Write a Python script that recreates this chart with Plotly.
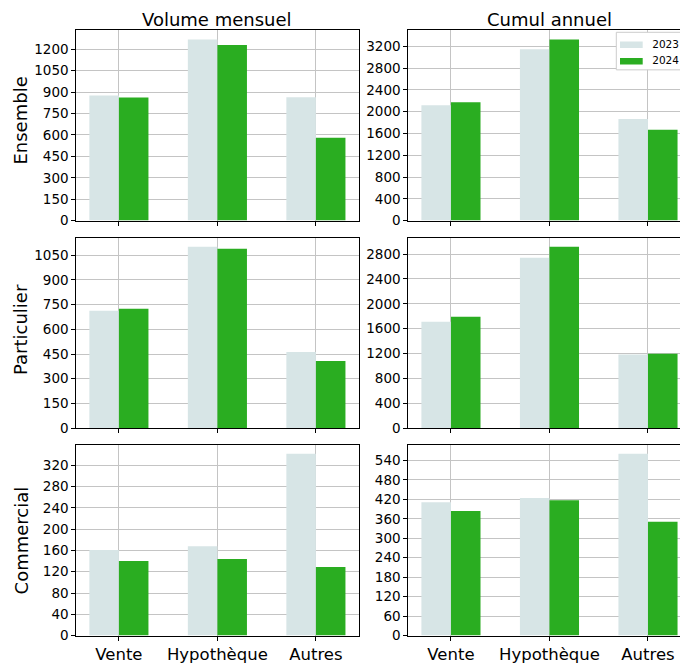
import plotly.graph_objects as go

categories = ["Vente", "Hypothèque", "Autres"]
years = ["2023", "2024"]
col_titles = ["Volume mensuel", "Cumul annuel"]
row_titles = ["Ensemble", "Particulier", "Commercial"]

ens_mensuel_2023 = [876, 1269, 864]
ens_mensuel_2024 = [862, 1230, 581]
ens_cumul_2023 = [2117, 3146, 1864]
ens_cumul_2024 = [2171, 3326, 1666]
par_mensuel_2023 = [713, 1101, 462]
par_mensuel_2024 = [725, 1089, 408]
par_cumul_2023 = [1713, 2741, 1186]
par_cumul_2024 = [1792, 2916, 1196]
com_mensuel_2023 = [161, 168, 342]
com_mensuel_2024 = [140, 144, 129]
com_cumul_2023 = [411, 424, 561]
com_cumul_2024 = [384, 417, 351]

dticks = [[150, 400], [150, 400], [40, 60]]

panels = [
    [(ens_mensuel_2023, ens_mensuel_2024), (ens_cumul_2023, ens_cumul_2024)],
    [(par_mensuel_2023, par_mensuel_2024), (par_cumul_2023, par_cumul_2024)],
    [(com_mensuel_2023, com_mensuel_2024), (com_cumul_2023, com_cumul_2024)],
]

colors = ["#d7e5e6", "#2aad21"]
W, H = 680, 666
font = "DejaVu Sans"

# pixel geometry (window pixels)
col_px = [(76.3, 358.5), (408.3, 680.0)]
col_range = [[-0.4325, 2.4325], [-0.433, 2.325]]
row_px = [(30.7, 223.3), (240.7, 433.3), (450.0, 643.3)]

fig = go.Figure()
layout = {}
ymaxes = {}
k = 0
for r in range(3):
    for c in range(2):
        k += 1
        xa = "x" if k == 1 else f"x{k}"
        ya = "y" if k == 1 else f"y{k}"
        s23, s24 = panels[r][c]
        for yi, (yr, vals) in enumerate(zip(years, (s23, s24))):
            fig.add_trace(go.Bar(
                x=categories, y=vals, name=yr, xaxis=xa, yaxis=ya,
                marker=dict(color=colors[yi], line=dict(width=0)),
                showlegend=False, hoverinfo="x+y+name",
            ))
        ymax = max(max(s23), max(s24)) * 1.05
        ymaxes[(r, c)] = ymax
        x0, x1 = col_px[c]
        y0, y1 = row_px[r]
        layout[f"xaxis{k}"] = dict(
            domain=[x0 / W, min(1.0, x1 / W)], anchor=ya, type="category",
            range=col_range[c], showgrid=True, gridcolor="#c4c4c4", gridwidth=1,
            showline=True, linecolor="black", linewidth=1, mirror=True,
            ticks="outside", ticklen=4, tickcolor="black",
            showticklabels=(r == 2),
            tickfont=dict(family=font, size=16.5, color="black"),
            zeroline=False, fixedrange=True,
        )
        layout[f"yaxis{k}"] = dict(
            domain=[1 - y1 / H, 1 - y0 / H], anchor=xa,
            range=[0, ymax], dtick=dticks[r][c], tick0=0,
            showgrid=True, gridcolor="#c4c4c4", gridwidth=1,
            showline=True, linecolor="black", linewidth=1, mirror=(c == 0),
            ticks="outside", ticklen=4, tickcolor="black",
            tickfont=dict(family=font, size=13.5, color="black"),
            zeroline=False, fixedrange=True,
        )


# legend placement helpers: window pixel -> top-right panel data coordinates
def lx(p):
    a, b = col_px[1]
    r0, r1 = col_range[1]
    return r0 + (p - a) / (b - a) * (r1 - r0)


def ly(p):
    a, b = row_px[0]
    return (b - p) / (b - a) * ymaxes[(0, 1)]


shapes = [
    dict(type="rect", xref="x2", yref="y2", x0=lx(616.3), x1=lx(681),
         y0=ly(70.7), y1=ly(32.7),
         line=dict(color="#cccccc", width=1), fillcolor="white", layer="between"),
]
patch_y = [(42.0, 48.7), (58.7, 65.3)]
for i in range(2):
    shapes.append(dict(type="rect", xref="x2", yref="y2", x0=lx(620), x1=lx(642.7),
                       y0=ly(patch_y[i][1]), y1=ly(patch_y[i][0]), line=dict(width=0),
                       fillcolor=colors[i], layer="between"))

# legend labels on an overlay of the top-right panel, clipped at its edge
layout["xaxis7"] = dict(overlaying="x2", range=[col_px[1][0], col_px[1][1]],
                        visible=False, showgrid=False, zeroline=False, fixedrange=True)
layout["yaxis7"] = dict(overlaying="y2", range=[row_px[0][1], row_px[0][0]],
                        visible=False, showgrid=False, zeroline=False, fixedrange=True)
fig.add_trace(go.Scatter(
    x=[665.6, 665.6], y=[45.5, 62.0], text=years, mode="text",
    textposition="middle center", xaxis="x7", yaxis="y7", cliponaxis=True,
    textfont=dict(family=font, size=10.5, color="black"),
    showlegend=False, hoverinfo="skip",
))

annotations = []
col_centers = [217.4, 549.5]
for c, t in enumerate(col_titles):
    annotations.append(dict(
        text=t, x=col_centers[c] / W, y=1 - 19.5 / H, xref="paper", yref="paper",
        xanchor="center", yanchor="middle", showarrow=False,
        font=dict(family=font, size=18, color="black"),
    ))
row_centers = [122, 334, 547]
for r, t in enumerate(row_titles):
    annotations.append(dict(
        text=t, x=21 / W, y=1 - row_centers[r] / H, xref="paper", yref="paper",
        xanchor="center", yanchor="middle", showarrow=False, textangle=-90,
        font=dict(family=font, size=18, color="black"),
    ))

# initial size leaves room for the default 8px page margin; the post script
# pins the chart to the page's top-left corner at its final 680x666 size
fig.update_layout(
    width=W - 16, height=H - 16, margin=dict(l=0, r=0, t=0, b=0),
    paper_bgcolor="white", plot_bgcolor="white",
    barmode="group", bargap=0.4, bargroupgap=0,
    font=dict(family=font, color="black"),
    annotations=annotations, shapes=shapes, showlegend=False,
    **layout,
)

post = (
    "document.documentElement.style.overflow='hidden';"
    "document.body.style.overflow='hidden';"
    "var gd=document.getElementById('{plot_id}');"
    "gd.style.position='absolute';gd.style.left='0px';gd.style.top='0px';"
    "gd.style.width='%dpx';gd.style.height='%dpx';"
    "Plotly.relayout(gd,{width:%d,height:%d});" % (W, H, W, H)
)

fig.write_html("out.html", config={"displayModeBar": False}, post_script=post)
